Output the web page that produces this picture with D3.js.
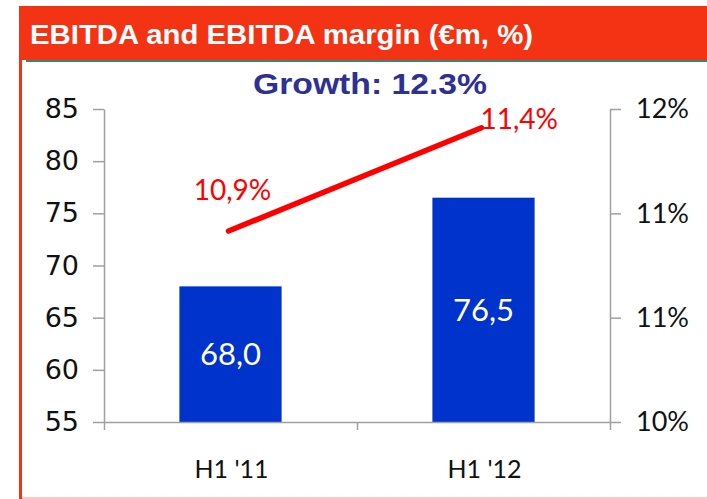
<!DOCTYPE html>
<html>
<head>
<meta charset="utf-8">
<script src="https://cdn.jsdelivr.net/npm/d3@7/dist/d3.min.js"></script>
<style>
  body { margin: 0; background: #fff; }
  svg { display: block; }
</style>
</head>
<body>
<div id="chart"></div>
<script>
// chart values
const categories = ["H1 '11", "H1 '12"]
const ebitda = [68.0, 76.5]
const ebitdaLabels = ['68,0', '76,5']
// margin line as plotted against the right axis
const margin = [11.22, 11.88]
const marginLabels = ['10,9%', '11,4%']
const leftTicks = [55, 60, 65, 70, 75, 80, 85]
const rightTicks = [10, 10.667, 11.333, 12]

const W = 707
const H = 499
const red = '#f43314'
const gridColor = '#a0a0a0'

let svg = d3.select('#chart').append('svg')
  .attr('width', W)
  .attr('height', H)

// frame: header, left border, bottom line
svg.append('rect')
  .attr('x', 19).attr('y', 6)
  .attr('width', W - 19).attr('height', 54)
  .attr('fill', red)
svg.append('rect')
  .attr('x', 19).attr('y', 60)
  .attr('width', 3).attr('height', H - 60)
  .attr('fill', red)
svg.append('line')
  .attr('x1', 26).attr('x2', W)
  .attr('y1', 61).attr('y2', 61)
  .attr('stroke', '#2a8886')
  .attr('stroke-width', 2)
svg.append('line')
  .attr('x1', 22).attr('x2', W)
  .attr('y1', 498).attr('y2', 498)
  .attr('stroke', '#ffc8c8')
  .attr('stroke-width', 2)

svg.append('text')
  .attr('x', 30).attr('y', 44)
  .attr('fill', '#fff')
  .attr('font-family', 'Liberation Sans, Arial, sans-serif')
  .attr('font-weight', 'bold')
  .attr('font-size', 27)
  .attr('textLength', 503)
  .attr('lengthAdjust', 'spacingAndGlyphs')
  .text('EBITDA and EBITDA margin (€m, %)')

svg.append('text')
  .attr('x', 370).attr('y', 94)
  .attr('text-anchor', 'middle')
  .attr('fill', '#2e3192')
  .attr('font-family', 'Liberation Sans, Arial, sans-serif')
  .attr('font-weight', 'bold')
  .attr('font-size', 30)
  .attr('textLength', 234)
  .attr('lengthAdjust', 'spacingAndGlyphs')
  .text('Growth: 12.3%')

// scales
let x = d3.scaleBand().domain(categories).range([104, 610]).padding(0)
let y = d3.scaleLinear().domain([55, 85]).range([422, 109])
let y2 = d3.scaleLinear().domain([10, 12]).range([422, 109])
let barW = x.bandwidth() * 0.404

// bars
let bars = svg.append('g').attr('class', 'bars')
bars.selectAll('rect')
  .data(ebitda)
  .enter()
  .append('rect')
  .attr('x', (d, i) => x(categories[i]) + x.bandwidth() / 2 - barW / 2)
  .attr('y', d => y(d))
  .attr('width', barW)
  .attr('height', d => y(55) - y(d))
  .attr('fill', '#0033cc')

bars.selectAll('text')
  .data(ebitda)
  .enter()
  .append('text')
  .attr('x', (d, i) => x(categories[i]) + x.bandwidth() / 2)
  .attr('y', d => (y(d) + y(55)) / 2)
  .attr('dy', '0.36em')
  .attr('text-anchor', 'middle')
  .attr('fill', '#fff')
  .attr('font-family', 'Lato, sans-serif')
  .attr('font-size', 31)
  .text((d, i) => ebitdaLabels[i])

// axes
let leftAxis = svg.append('g')
  .attr('transform', 'translate(104,0)')
  .call(d3.axisLeft(y).tickValues(leftTicks).tickSize(11).tickSizeOuter(0).tickPadding(14))
leftAxis.selectAll('text')
  .attr('font-family', 'DejaVu Sans, sans-serif')
  .attr('font-size', 27)
  .attr('fill', '#111')

let rightAxis = svg.append('g')
  .attr('transform', 'translate(610,0)')
  .call(d3.axisRight(y2).tickValues(rightTicks).tickSize(11).tickSizeOuter(0).tickPadding(15)
    .tickFormat(d => Math.round(d) + '%'))
rightAxis.selectAll('text')
  .attr('font-family', 'Lato, sans-serif')
  .attr('font-size', 27)
  .attr('fill', '#111')

let xEdges = d3.scaleLinear().domain([0, categories.length]).range([104, 610])
let bottomAxis = svg.append('g')
  .attr('transform', 'translate(0,422)')
  .call(d3.axisBottom(xEdges).tickValues(d3.range(categories.length + 1)).tickSize(8).tickSizeOuter(0).tickFormat(''))

svg.selectAll('.domain, .tick line')
  .attr('stroke', gridColor)
  .attr('stroke-width', 1.5)

svg.append('g').selectAll('text')
  .data(categories)
  .enter()
  .append('text')
  .attr('x', d => x(d) + x.bandwidth() / 2 + 1)
  .attr('y', 478)
  .attr('text-anchor', 'middle')
  .attr('font-family', 'Lato, sans-serif')
  .attr('font-size', 25)
  .attr('fill', '#111')
  .text(d => d)

// margin line
let pts = margin.map((d, i) => [x(categories[i]) + x.bandwidth() / 2 - 2, y2(d)])
svg.append('path')
  .attr('d', d3.line()(pts))
  .attr('fill', 'none')
  .attr('stroke', '#ff0000')
  .attr('stroke-width', 5.5)
  .attr('stroke-linecap', 'round')

svg.append('g').selectAll('text')
  .data(pts)
  .enter()
  .append('text')
  .attr('x', (d, i) => i === 0 ? d[0] + 4 : d[0] - 1)
  .attr('y', (d, i) => i === 0 ? d[1] - 31 : d[1] + 1)
  .attr('text-anchor', (d, i) => i === 0 ? 'middle' : 'start')
  .attr('font-family', 'Lato, sans-serif')
  .attr('font-size', 28)
  .attr('fill', '#ff0000')
  .text((d, i) => marginLabels[i])
</script>
</body>
</html>
